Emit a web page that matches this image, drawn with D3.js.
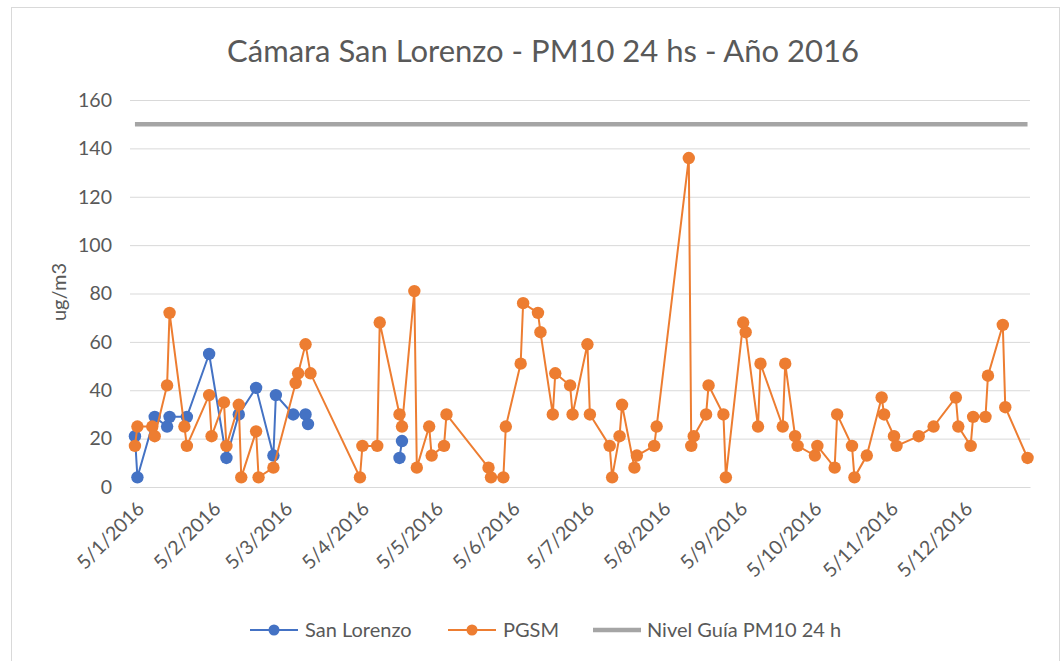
<!DOCTYPE html>
<html>
<head>
<meta charset="utf-8">
<script src="https://cdn.jsdelivr.net/npm/d3@7"></script>
<style>
  body { margin: 0; background: #fff; }
  svg { font-family: Lato, "Open Sans", sans-serif; }
</style>
</head>
<body>
<svg id="chart" width="1063" height="661"></svg>
<script>
// datos (fechas en formato ISO)
const slDates = ["2016-01-05","2016-01-06","2016-01-13","2016-01-18","2016-01-19","2016-01-26",
  "2016-02-04","2016-02-11","2016-02-16","2016-02-23","2016-03-01","2016-03-02","2016-03-09",
  "2016-03-14","2016-03-15","2016-04-01","2016-04-21","2016-04-22"];
const slValues = [21, 4, 29, 25, 29, 29, 55, 12, 30, 41, 13, 38, 30, 30, 26, null, 12, 19];

const pgsmDates = ["2016-01-05","2016-01-06","2016-01-12","2016-01-13","2016-01-18","2016-01-19",
  "2016-01-25","2016-01-26","2016-02-04","2016-02-05","2016-02-10","2016-02-11","2016-02-16",
  "2016-02-17","2016-02-23","2016-02-24","2016-03-01","2016-03-10","2016-03-11","2016-03-14",
  "2016-03-16","2016-04-05","2016-04-06","2016-04-12","2016-04-13","2016-04-21","2016-04-22",
  "2016-04-27","2016-04-28","2016-05-03","2016-05-04","2016-05-09","2016-05-10","2016-05-27",
  "2016-05-28","2016-06-02","2016-06-03","2016-06-09","2016-06-10","2016-06-16","2016-06-17",
  "2016-06-22","2016-06-23","2016-06-29","2016-06-30","2016-07-06","2016-07-07","2016-07-15",
  "2016-07-16","2016-07-19","2016-07-20","2016-07-25","2016-07-26","2016-08-02","2016-08-03",
  "2016-08-16","2016-08-17","2016-08-18","2016-08-23","2016-08-24","2016-08-30","2016-08-31",
  "2016-09-07","2016-09-08","2016-09-13","2016-09-14","2016-09-23","2016-09-24","2016-09-28",
  "2016-09-29","2016-10-06","2016-10-07","2016-10-14","2016-10-15","2016-10-21","2016-10-22",
  "2016-10-27","2016-11-02","2016-11-03","2016-11-07","2016-11-08","2016-11-17","2016-11-23",
  "2016-12-02","2016-12-03","2016-12-08","2016-12-09","2016-12-14","2016-12-15","2016-12-21",
  "2016-12-22","2016-12-31"];
const pgsmValues = [17, 25, 25, 21, 42, 72, 25, 17, 38, 21, 35, 17, 34, 4, 23, 4, 8, 43, 47, 59,
  47, 4, 17, 17, 68, 30, 25, 81, 8, 25, 13, 17, 30, 8, 4, 4, 25, 51, 76, 72, 64,
  30, 47, 42, 30, 59, 30, 17, 4, 21, 34, 8, 13, 17, 25, 136, 17, 21, 30, 42, 30, 4,
  68, 64, 25, 51, 25, 51, 21, 17, 13, 17, 8, 30, 17, 4, 13, 37, 30, 21, 17, 21, 25,
  37, 25, 17, 29, 29, 46, 67, 33, 12];

const guiaDates = ["2016-01-05", "2016-12-31"];
const guiaValues = [150, 150];

const tickDates = ["2016-01-05","2016-02-05","2016-03-05","2016-04-05","2016-05-05","2016-06-05",
  "2016-07-05","2016-08-05","2016-09-05","2016-10-05","2016-11-05","2016-12-05"];
const yTicks = [0, 20, 40, 60, 80, 100, 120, 140, 160];

const titulo = "Cámara San Lorenzo - PM10 24 hs - Año 2016";
const series = [
  { nombre: "San Lorenzo", color: "#4472C4" },
  { nombre: "PGSM", color: "#ED7D31" },
  { nombre: "Nivel Guía PM10 24 h", color: "#A5A5A5" }
];

const parse = d3.timeParse("%Y-%m-%d");
const fmt = d => `${d.getDate()}/${d.getMonth() + 1}/${d.getFullYear()}`;

const zip = (ds, vs) => ds.map((d, i) => ({ fecha: parse(d), valor: vs[i] }));
const sl = zip(slDates, slValues);
const pgsm = zip(pgsmDates, pgsmValues);
const guia = zip(guiaDates, guiaValues);

const svg = d3.select("#chart");
const mIzq = 130, mDer = 1030, mSup = 100, mInf = 487;

// borde del grafico
svg.append("rect")
  .attr("x", 11.5).attr("y", 7.5).attr("width", 1048).attr("height", 670)
  .attr("fill", "none").attr("stroke", "#d9d9d9");

const x = d3.scaleTime()
  .domain([parse("2016-01-03"), parse("2017-01-01")])
  .range([mIzq, mDer]);
const y = d3.scaleLinear().domain([0, 160]).range([mInf, mSup]);

// grilla y eje Y
const yAxis = svg.append("g")
  .attr("transform", `translate(${mIzq},0)`)
  .call(d3.axisLeft(y).tickValues(yTicks).tickSize(-(mDer - mIzq)).tickPadding(18));
yAxis.select(".domain").remove();
yAxis.selectAll(".tick line").attr("stroke", "#d9d9d9");
yAxis.selectAll(".tick text")
  .attr("fill", "#595959").style("font-size", "19.5px").style("font-family", "Lato");

// eje X
const xAxis = svg.append("g")
  .attr("transform", `translate(0,${mInf})`)
  .call(d3.axisBottom(x).tickValues(tickDates.map(parse)).tickFormat(fmt).tickSize(0));
xAxis.select(".domain").attr("stroke", "#d9d9d9");
xAxis.selectAll(".tick text")
  .attr("fill", "#595959").style("font-size", "19.5px").style("font-family", "Lato")
  .attr("text-anchor", "end")
  .attr("dy", 0).attr("y", 0)
  .attr("transform", "translate(10,23) rotate(-45)");

// titulo del eje Y
svg.append("text")
  .attr("transform", "translate(66,292) rotate(-90)")
  .attr("text-anchor", "middle")
  .attr("fill", "#595959").style("font-size", "20px")
  .text("ug/m3");

// titulo
svg.append("text")
  .attr("x", 543).attr("y", 62)
  .attr("text-anchor", "middle")
  .attr("fill", "#595959").style("font-size", "31px")
  .text(titulo);

const line = d3.line()
  .defined(d => d.valor != null)
  .x(d => x(d.fecha)).y(d => y(d.valor));

function dibujarSerie(datos, color, conMarcas) {
  svg.append("path").datum(datos)
    .attr("d", line)
    .attr("fill", "none").attr("stroke", color)
    .attr("stroke-width", conMarcas ? 2 : 4.5);
  if (conMarcas) {
    svg.append("g").selectAll("circle")
      .data(datos.filter(d => d.valor != null))
      .join("circle")
      .attr("cx", d => x(d.fecha)).attr("cy", d => y(d.valor))
      .attr("r", 6.2).attr("fill", color);
  }
}

dibujarSerie(sl, series[0].color, true);
dibujarSerie(pgsm, series[1].color, true);
dibujarSerie(guia, series[2].color, false);

// leyenda
const leyX = [250, 448, 593];
const ley = svg.append("g").selectAll("g")
  .data(series).join("g")
  .attr("transform", (d, i) => `translate(${leyX[i]},630)`);
ley.append("line")
  .attr("x1", 0).attr("x2", 48)
  .attr("stroke", d => d.color)
  .attr("stroke-width", (d, i) => i === 2 ? 4.5 : 2);
ley.filter((d, i) => i < 2).append("circle")
  .attr("cx", 24).attr("r", 5.5).attr("fill", d => d.color);
ley.append("text")
  .attr("x", (d, i) => i === 2 ? 54 : 55).attr("dy", "0.35em")
  .attr("fill", "#595959").style("font-size", "20px")
  .text(d => d.nombre);
</script>
</body>
</html>
